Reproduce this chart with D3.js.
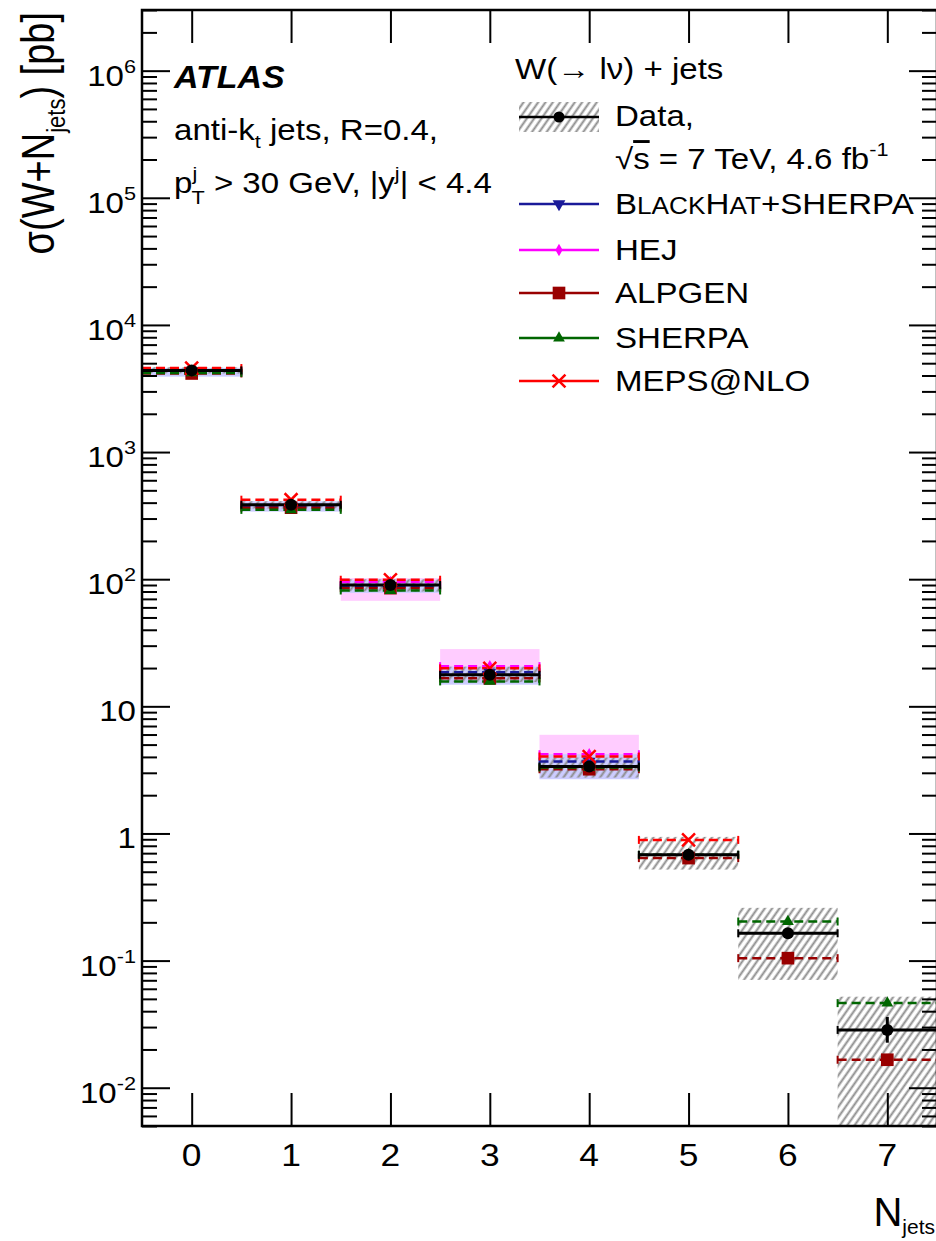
<!DOCTYPE html>
<html>
<head>
<meta charset="utf-8">
<script src="https://cdn.jsdelivr.net/npm/d3@7"></script>
<style>
  body { margin: 0; background: #fff; }
  text { font-family: "Liberation Sans", Arial, Helvetica, sans-serif; fill: #000; }
</style>
</head>
<body>
<div id="chart"></div>
<script>
// ---- values ----
const nJets = [0, 1, 2, 3, 4, 5, 6, 7];

// data (black points) + stat error bar + syst band (hatched)
const dataVal    = [4390, 385, 90, 17.7, 3.36, 0.68, 0.164, 0.0285];
const dataStatLo = [4350, 382, 89, 17.5, 3.3, 0.66, 0.15, 0.0226];
const dataStatHi = [4430, 388, 91, 17.9, 3.42, 0.70, 0.18, 0.036];
const dataSystLo = [4150, 360, 80, 15.5, 2.75, 0.52, 0.0705, 0.003];
const dataSystHi = [4650, 410, 100, 20.5, 3.95, 0.94, 0.26, 0.052];

// predictions (null = not available)
const bhVal  = [4300, 375, 88, 18.5, 3.68, null, null, null];
const bhLo   = [3920, 340, 78, 14.8, 2.67, null, null, null];
const bhHi   = [4600, 410, 98, 20.5, 4.2, null, null, null];
const hejVal = [null, null, 95, 20.7, 4.2, null, null, null];
const hejLo  = [null, null, 67.6, 16, 3.0, null, null, null];
const hejHi  = [null, null, 102, 28.2, 5.97, null, null, null];
const alpgenVal = [4150, 365, 85, 16.6, 3.2, 0.64, 0.1045, 0.0166];
const sherpaVal = [4190, 351, 81.5, 15.7, 3.3, 0.68, 0.203, 0.0463];
const mepsVal   = [4580, 422, 99, 19.9, 4.03, 0.89, null, null];

const yMajors = [-2, -1, 0, 1, 2, 3, 4, 5, 6];

// ---- layout ----
const W = 936, H = 1241;
const pL = 142, pR = 937, pT = 10, pB = 1126;
const SX = 1.14; // the figure is slightly stretched horizontally

const svg = d3.select("#chart").append("svg")
  .attr("width", W).attr("height", H);

const x = d3.scaleLinear().domain([-0.5, 7.5]).range([pL, pR]);
const y = d3.scaleLog().domain([0.005, 3e6]).range([pB, pT]);

const defs = svg.append("defs");
const hatch = defs.append("pattern")
  .attr("id", "hatch")
  .attr("patternUnits", "userSpaceOnUse")
  .attr("width", 6).attr("height", 6)
  .attr("patternTransform", "rotate(35)");
hatch.append("line")
  .attr("x1", 1.5).attr("y1", 0).attr("x2", 1.5).attr("y2", 6)
  .attr("stroke", "#8c8c8c").attr("stroke-width", 2);

defs.append("clipPath").attr("id", "plotclip")
  .append("rect").attr("x", pL).attr("y", pT)
  .attr("width", pR - pL).attr("height", pB - pT);

const plot = svg.append("g").attr("clip-path", "url(#plotclip)");

function txt(xp, yp, size, anchor) {
  return svg.append("text")
    .attr("transform", `translate(${xp},${yp}) scale(${SX},1)`)
    .attr("font-size", size)
    .attr("text-anchor", anchor || "start");
}

// ---- bands ----
function bands(lo, hi, fill) {
  nJets.forEach((n, i) => {
    if (lo[i] == null) return;
    plot.append("rect")
      .attr("x", x(n - 0.5)).attr("width", x(n + 0.5) - x(n - 0.5))
      .attr("y", y(hi[i])).attr("height", y(lo[i]) - y(hi[i]))
      .attr("fill", fill);
  });
}
bands(hejLo, hejHi, "#ffccff");
bands(bhLo, bhHi, "#ccccff");

// data systematic band
nJets.forEach((n, i) => {
  plot.append("rect")
    .attr("x", x(n - 0.5)).attr("width", x(n + 0.5) - x(n - 0.5))
    .attr("y", y(dataSystHi[i])).attr("height", y(dataSystLo[i]) - y(dataSystHi[i]))
    .attr("fill", "url(#hatch)");
});

// ---- horizontal bin lines ----
function binLines(vals, color, dash, width) {
  nJets.forEach((n, i) => {
    if (vals[i] == null) return;
    const yy = y(vals[i]);
    plot.append("line")
      .attr("x1", x(n - 0.5)).attr("x2", x(n + 0.5))
      .attr("y1", yy).attr("y2", yy)
      .attr("stroke", color).attr("stroke-width", width)
      .attr("stroke-dasharray", dash);
    [n - 0.5, n + 0.5].forEach(e => {
      plot.append("line")
        .attr("x1", x(e)).attr("x2", x(e))
        .attr("y1", yy - 4).attr("y2", yy + 4)
        .attr("stroke", color).attr("stroke-width", 2);
    });
  });
}

const series = [
  { name: "BlackHat", vals: bhVal, color: "#1a1a99", sym: d3.symbolTriangle, size: 70, rot: 180 },
  { name: "HEJ", vals: hejVal, color: "#ff00ff", sym: d3.symbolDiamond, size: 45, rot: 0 },
  { name: "ALPGEN", vals: alpgenVal, color: "#990000", sym: d3.symbolSquare, size: 160, rot: 0 },
  { name: "SHERPA", vals: sherpaVal, color: "#006600", sym: d3.symbolTriangle, size: 60, rot: 0 },
  { name: "MEPS", vals: mepsVal, color: "#ff0000", sym: d3.symbolTimes, size: 110, rot: 0, stroke: true }
];

series.forEach(s => binLines(s.vals, s.color, "9,5", 2.5));
binLines(dataVal, "#000", null, 3);

function marker(g, s, cx, cy) {
  const p = g.append("path")
    .attr("d", d3.symbol().type(s.sym).size(s.size)())
    .attr("transform", `translate(${cx},${cy}) rotate(${s.rot})`);
  if (s.stroke) p.attr("fill", "none").attr("stroke", s.color).attr("stroke-width", 2.5);
  else p.attr("fill", s.color);
}

series.forEach(s => {
  nJets.forEach((n, i) => {
    if (s.vals[i] == null) return;
    marker(plot, s, x(n), y(s.vals[i]));
  });
});

// data stat bars + points
nJets.forEach((n, i) => {
  plot.append("line")
    .attr("x1", x(n)).attr("x2", x(n))
    .attr("y1", y(dataStatHi[i])).attr("y2", y(dataStatLo[i]))
    .attr("stroke", "#000").attr("stroke-width", 3);
  plot.append("circle")
    .attr("cx", x(n)).attr("cy", y(dataVal[i])).attr("r", 6)
    .attr("fill", "#000");
});

// ---- axes ----
const minors = [];
for (let e = -3; e <= 6; e++) {
  for (let m = 2; m <= 9; m++) {
    const v = m * Math.pow(10, e);
    if (v >= 0.005 && v <= 3e6) minors.push(v);
  }
}
const majors = yMajors.map(e => Math.pow(10, e));

function styleAxis(g) {
  g.select(".domain").remove();
  g.selectAll("line").attr("stroke", "#000").attr("stroke-width", 2);
  g.selectAll("text").remove();
}

svg.append("g").attr("transform", `translate(${pL},0)`)
  .call(d3.axisRight(y).tickValues(majors).tickSize(28)).call(styleAxis);
svg.append("g").attr("transform", `translate(${pL},0)`)
  .call(d3.axisRight(y).tickValues(minors).tickSize(15)).call(styleAxis);
svg.append("g").attr("transform", `translate(${pR},0)`)
  .call(d3.axisLeft(y).tickValues(majors).tickSize(28)).call(styleAxis);
svg.append("g").attr("transform", `translate(${pR},0)`)
  .call(d3.axisLeft(y).tickValues(minors).tickSize(15)).call(styleAxis);
svg.append("g").attr("transform", `translate(0,${pB})`)
  .call(d3.axisTop(x).tickValues(nJets).tickSize(33)).call(styleAxis);
svg.append("g").attr("transform", `translate(0,${pT})`)
  .call(d3.axisBottom(x).tickValues(nJets).tickSize(33)).call(styleAxis);

svg.append("rect")
  .attr("x", pL).attr("y", pT)
  .attr("width", pR - pL).attr("height", pB - pT)
  .attr("fill", "none").attr("stroke", "#000").attr("stroke-width", 2.5);

// y tick labels
yMajors.forEach(e => {
  const t = txt(136, y(Math.pow(10, e)) + 15, 29, "end");
  if (e === 0) t.text("1");
  else if (e === 1) t.text("10");
  else {
    t.append("tspan").text("10");
    t.append("tspan").attr("dy", -13).attr("font-size", 19).text(e);
  }
});

// x tick labels
nJets.forEach(n => {
  txt(x(n), 1166, 31, "middle").text(n);
});

// axis titles
const xt = svg.append("text")
  .attr("transform", `translate(935,1226)`)
  .attr("text-anchor", "end").attr("font-size", 40);
xt.append("tspan").text("N");
xt.append("tspan").attr("dy", 8).attr("font-size", 21).text("jets");

const yt = svg.append("text")
  .attr("transform", `translate(54,12) rotate(-90) scale(1,1.2)`)
  .attr("text-anchor", "end").attr("font-size", 38);
yt.append("tspan").text("σ(W+N");
yt.append("tspan").attr("dy", 9).attr("font-size", 22).text("jets");
yt.append("tspan").attr("dy", -9).text(") [pb]");

// ---- ATLAS labels ----
svg.append("text")
  .attr("transform", `translate(174,88) scale(1.06,1)`)
  .attr("font-size", 32).attr("font-weight", "bold").attr("font-style", "italic")
  .text("ATLAS");
const l1 = txt(174, 140, 29);
l1.append("tspan").text("anti-k");
l1.append("tspan").attr("dy", 8).attr("font-size", 19).text("t");
l1.append("tspan").attr("dy", -8).text(" jets, R=0.4,");
const l2 = txt(174, 193, 29);
l2.append("tspan").text("p");
l2.append("tspan").attr("dy", -13).attr("font-size", 19).text("j");
l2.append("tspan").attr("dx", -5).attr("dy", 24).attr("font-size", 19).text("T");
l2.append("tspan").attr("dy", -11).text(" > 30 GeV, |y");
l2.append("tspan").attr("dy", -13).attr("font-size", 19).text("j");
l2.append("tspan").attr("dy", 13).text("| < 4.4");

// ---- legend ----
txt(515, 79, 29).text("W(\u2192 l\u03bd) + jets");

const lx1 = 519, lx2 = 599, lxm = 559, ltx = 615;
svg.append("rect").attr("x", lx1).attr("y", 102).attr("width", lx2 - lx1).attr("height", 30)
  .attr("fill", "url(#hatch)");
svg.append("line").attr("x1", lx1).attr("x2", lx2).attr("y1", 117).attr("y2", 117)
  .attr("stroke", "#000").attr("stroke-width", 2.5);
svg.append("circle").attr("cx", lxm).attr("cy", 117).attr("r", 5.5).attr("fill", "#000");
txt(ltx, 126, 29).text("Data,");
const ls = txt(ltx, 169, 29);
ls.append("tspan").text("\u221A");
ls.append("tspan").attr("text-decoration", "overline").text("s");
ls.append("tspan").text(" = 7 TeV, 4.6 fb");
ls.append("tspan").attr("dy", -13).attr("font-size", 19).text("-1");

const legY = [204, 250, 293, 338, 381];
series.forEach((s, i) => {
  svg.append("line").attr("x1", lx1).attr("x2", lx2).attr("y1", legY[i]).attr("y2", legY[i])
    .attr("stroke", s.color).attr("stroke-width", 2.5);
  marker(svg, s, lxm, legY[i]);
});

const bt = txt(ltx, legY[0] + 10, 29);
bt.append("tspan").text("B");
bt.append("tspan").attr("font-size", 23).text("LACK");
bt.append("tspan").text("H");
bt.append("tspan").attr("font-size", 23).text("AT");
bt.append("tspan").text("+SHERPA");
txt(ltx, legY[1] + 10, 29).text("HEJ");
txt(ltx, legY[2] + 10, 29).text("ALPGEN");
txt(ltx, legY[3] + 10, 29).text("SHERPA");
txt(ltx, legY[4] + 10, 29).text("MEPS@NLO");
</script>
</body>
</html>
